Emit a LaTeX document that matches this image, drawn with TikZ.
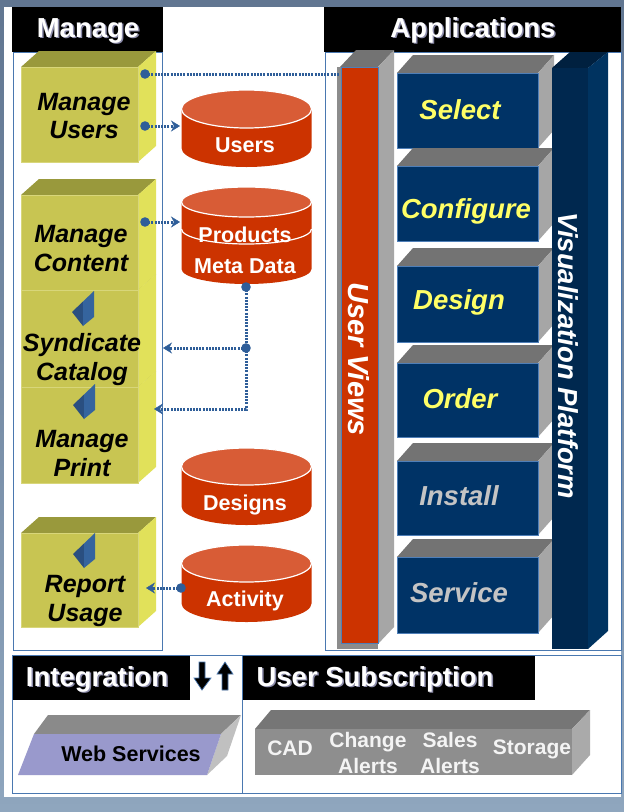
\documentclass[tikz,border=0pt]{standalone}
\usepackage{fontspec}
\setmainfont{Liberation Sans}
\usetikzlibrary{arrows.meta}
\definecolor{bgTop}{HTML}{617691}
\definecolor{bgBot}{HTML}{8FA6BE}
\definecolor{frameblue}{HTML}{4A78B0}
\definecolor{hdrshadow}{HTML}{8C8CAA}
\definecolor{cubefront}{HTML}{C8C552}
\definecolor{cubetop}{HTML}{99993C}
\definecolor{cuberight}{HTML}{E1E15A}
\definecolor{cubeedge}{HTML}{D8D67A}
\definecolor{kitedark}{HTML}{2A4F80}
\definecolor{kitelight}{HTML}{35649E}
\definecolor{cylbody}{HTML}{CC3300}
\definecolor{cyltop}{HTML}{D85C36}
\definecolor{connblue}{HTML}{2F5E99}
\definecolor{appfront}{HTML}{003366}
\definecolor{apptop}{HTML}{737373}
\definecolor{appright}{HTML}{A6A6A6}
\definecolor{appedge}{HTML}{4F7FB8}
\definecolor{appyellow}{HTML}{FFFF66}
\definecolor{appgray}{HTML}{C4C4C4}
\definecolor{vizfront}{HTML}{00284F}
\definecolor{vizright}{HTML}{003360}
\definecolor{viztop}{HTML}{00203F}
\definecolor{uvred}{HTML}{CC3300}
\definecolor{uvshadow}{HTML}{8C8C8C}
\definecolor{wsfront}{HTML}{9999CC}
\definecolor{wstop}{HTML}{8A8A8A}
\definecolor{wsright}{HTML}{C0C0C0}
\definecolor{subtop}{HTML}{767676}
\definecolor{subfront}{HTML}{8E8E8E}
\definecolor{subright}{HTML}{AAAAAA}
\definecolor{subtext}{HTML}{F4F4F4}

\newcommand\mcube[4]{%
  \fill[cubetop] (#1,#2) -- (#1+18,#2-16) -- (#3+18,#2-16) -- (#3,#2) -- cycle;
  \fill[cuberight] (#3,#2) -- (#3+18,#2-16) -- (#3+18,#4-16) -- (#3,#4) -- cycle;
  \filldraw[fill=cubefront,draw=cubeedge,line width=0.6pt] (#1,#2) rectangle (#3,#4);
}
\newcommand\mkite[2]{%
  \fill[kitedark] (#1,#2) -- (#1+11,#2-10.5) -- (#1+11,#2+14) -- cycle;
  \fill[kitelight] (#1+11,#2-10.5) -- (#1+22,#2-21) -- (#1+22,#2+5) -- (#1+11,#2+14) -- cycle;
}
\newcommand\mcyl[4]{% cx, top centre y, bottom centre y, ry
  \fill[cylbody] (#1-65,#2) -- (#1-65,#3) arc[start angle=180,end angle=360,x radius=65pt,y radius=#4pt] -- (#1+65,#2) -- cycle;
  \filldraw[fill=cyltop,draw=white,line width=1.2pt] (#1,#2) ellipse [x radius=65pt,y radius=#4pt];
}
\newcommand\mapp[2]{% front top y, front bottom y
  \fill[apptop] (397,#1) -- (413,#1-18) -- (554,#1-18) -- (538,#1) -- cycle;
  \fill[appright] (538,#1) -- (554,#1-18) -- (554,#2-18) -- (538,#2) -- cycle;
  \filldraw[fill=appfront,draw=appedge,line width=0.8pt] (397,#1) rectangle (538,#2);
}

\begin{document}
\begin{tikzpicture}[x=1pt,y=-1pt,
  hdr/.style={text=white,font=\fontsize{27.5}{33}\selectfont\bfseries,inner sep=0pt,anchor=base},
  hdrsh/.style={hdr,text=hdrshadow},
  cubelbl/.style={text=black,font=\fontsize{25}{29}\selectfont\bfseries\itshape,inner sep=0pt,anchor=base},
  cyllbl/.style={text=white,font=\fontsize{21.5}{26}\selectfont\bfseries,inner sep=0pt,anchor=base},
  applbl/.style={text=appyellow,font=\fontsize{27.5}{33}\selectfont\bfseries\itshape,inner sep=0pt,anchor=base},
  appgraylbl/.style={applbl,text=appgray},
  vlbl/.style={text=white,font=\fontsize{#1}{33}\selectfont\bfseries\itshape,inner sep=0pt,anchor=base,rotate=-90},
  sublbl/.style={text=subtext,font=\fontsize{21}{26}\selectfont\bfseries,inner sep=0pt,anchor=base},
  conn/.style={connblue,line width=3pt,dash pattern=on 2pt off 1.2pt},
  arr/.style={conn,-{Stealth[length=9pt,width=11pt,inset=3pt,line width=0.4pt]}},
  dot/.style={connblue},
  frame/.style={draw=frameblue,line width=1pt}
]
\useasboundingbox (0,0) rectangle (624,812);
% background
\fill[top color=bgTop,bottom color=bgBot] (0,0) rectangle (624,812);
\fill[white] (4,7) rectangle (621,797);

% frames
\draw[frame] (13,52) rectangle (162,650);
\draw[frame] (325,52) rectangle (621,650);
\draw[frame] (12,655) rectangle (242,793);
\draw[frame] (242,655) rectangle (621,793);

% headers
\fill[black] (12,7) rectangle (163,52);
\fill[black] (324,7) rectangle (621,52);
\fill[black] (13,656) rectangle (190,700);
\fill[black] (243,656) rectangle (535,700);
\node[hdrsh] (manageSh) at (89.5,38.5) {Manage};
\node[hdr] (manageHdr) at (88,37) {Manage};
\node[hdrsh] (appsSh) at (474.5,38.5) {Applications};
\node[hdr] (appsHdr) at (473,37) {Applications};
\node[hdrsh] (integSh) at (98.5,687.5) {Integration};
\node[hdr] (integHdr) at (97,686) {Integration};
\node[hdrsh] (subsSh) at (376.5,687.5) {User Subscription};
\node[hdr] (subsHdr) at (375,686) {User Subscription};

% up/down arrows icon
\filldraw[fill=black,draw=frameblue,line width=0.7pt] (199,662) -- (205,662) -- (205,678) -- (211,678) -- (202,690) -- (194,678) -- (199,678) -- cycle;
\filldraw[fill=black,draw=frameblue,line width=0.7pt] (225,662) -- (233,674) -- (228,674) -- (228,690) -- (222,690) -- (222,674) -- (217,674) -- cycle;

% Manage cubes
\mcube{21}{67}{138}{162}
\mcube{21}{387}{138}{483}
\mcube{21}{290}{138}{387}
\mcube{21}{195}{138}{290}
\mcube{21}{533}{138}{627}
\mkite{72}{312}
\mkite{73}{405}
\mkite{73}{554}

\node[cubelbl] (muA) at (84,110) {Manage};
\node[cubelbl] (muB) at (84,138) {Users};
\node[cubelbl] (mcA) at (81,242) {Manage};
\node[cubelbl] (mcB) at (81,271) {Content};
\node[cubelbl] (scA) at (82,351) {Syndicate};
\node[cubelbl] (scB) at (82,380) {Catalog};
\node[cubelbl] (mpA) at (82,447) {Manage};
\node[cubelbl] (mpB) at (82,476) {Print};
\node[cubelbl] (ruA) at (85,592) {Report};
\node[cubelbl] (ruB) at (85,621) {Usage};

% cylinders
\mcyl{246.5}{109}{148}{19}
\mcyl{246.5}{202}{269}{15}
\draw[white,line width=1.2pt] (181.5,229) arc[start angle=180,end angle=360,x radius=65pt,y radius=15pt];
\mcyl{246.5}{466.5}{506.5}{18.5}
\mcyl{246.5}{563.5}{603.5}{18.5}
\node[cyllbl] (usersDb) at (245,152) {Users};
\node[cyllbl] (prodDbA) at (245,242) {Products};
\node[cyllbl] (prodDbB) at (245,273) {Meta Data};
\node[cyllbl] (designsDb) at (245,510) {Designs};
\node[cyllbl] (activityDb) at (245,606) {Activity};

% User Views bar
\fill[apptop] (340,67) -- (356,50) -- (394,50) -- (378,67) -- cycle;
\fill[appright] (378,67) -- (394,50) -- (394,627) -- (378,644) -- cycle;
\fill[uvshadow] (337,67) rectangle (378,649);
\filldraw[fill=uvred,draw=appedge,line width=0.5pt] (341,67) rectangle (378,643);
\node[vlbl=29] (userViews) at (348,359) {User Views};

% application boxes
\mapp{73}{148}
\mapp{166}{241}
\mapp{266}{342}
\mapp{363}{437}
\mapp{461}{535}
\mapp{557}{633}
\node[applbl] (select) at (460,119) {Select};
\node[applbl] (configure) at (466,218) {Configure};
\node[applbl] (design) at (459,309) {Design};
\node[applbl] (order) at (460,408) {Order};
\node[appgraylbl] (install) at (459,505) {Install};
\node[appgraylbl] (service) at (459,602) {Service};

% Visualization Platform bar
\fill[viztop] (552,68) -- (570,52) -- (608,52) -- (588,68) -- cycle;
\fill[vizright] (588,68) -- (608,52) -- (608,631) -- (588,649) -- cycle;
\fill[vizfront] (552,68) rectangle (588,649);
\node[vlbl=27.5] (vizPlat) at (558,356) {Visualization Platform};

% connectors
\coordinate (muOut1) at (145,74);
\coordinate (uvIn) at (339,74);
\coordinate (muOut2) at (145,126);
\coordinate (usersIn) at (180,126);
\coordinate (mcOut) at (145,222);
\coordinate (prodIn) at (180,222);
\coordinate (prodOut) at (246,287);
\coordinate (split) at (246,348);
\coordinate (scIn) at (163,348);
\coordinate (bend) at (246,409);
\coordinate (mpIn) at (154,409);
\coordinate (actOut) at (181,588);
\coordinate (ruIn) at (146,588);
\draw[conn] (muOut1) -- (uvIn);
\draw[arr] (muOut2) -- (usersIn);
\draw[arr] (mcOut) -- (prodIn);
\draw[conn] (prodOut) -- (split);
\draw[arr] (split) -- (scIn);
\draw[arr] (split) -- (bend) -- (mpIn);
\draw[arr] (actOut) -- (ruIn);
\foreach \c in {muOut1,muOut2,mcOut,prodOut,split,actOut} \fill[dot] (\c) circle (4.8pt);

% Web Services slab
\fill[wstop] (34,734) -- (48,715) -- (241,715) -- (221,734) -- cycle;
\fill[wsright] (221,734) -- (241,715) -- (227,756) -- (207,775) -- cycle;
\fill[wsfront] (34,734) -- (221,734) -- (207,775) -- (18,775) -- cycle;
\node[sublbl,text=black,font=\fontsize{21.5}{26}\selectfont\bfseries] (webServices) at (131,761) {Web Services};

% User Subscription slab
\fill[subtop] (255,729) -- (271,710) -- (590,710) -- (572,729) -- cycle;
\fill[subright] (572,729) -- (590,710) -- (590,755) -- (572,775) -- cycle;
\fill[subfront] (255,729) rectangle (572,775);
\node[sublbl] (cad) at (290,755) {CAD};
\node[sublbl] (changeA) at (368,747) {Change};
\node[sublbl] (changeB) at (368,773) {Alerts};
\node[sublbl] (salesA) at (450,747) {Sales};
\node[sublbl] (salesB) at (450,773) {Alerts};
\node[sublbl] (storage) at (532,754) {Storage};
\end{tikzpicture}
\end{document}
